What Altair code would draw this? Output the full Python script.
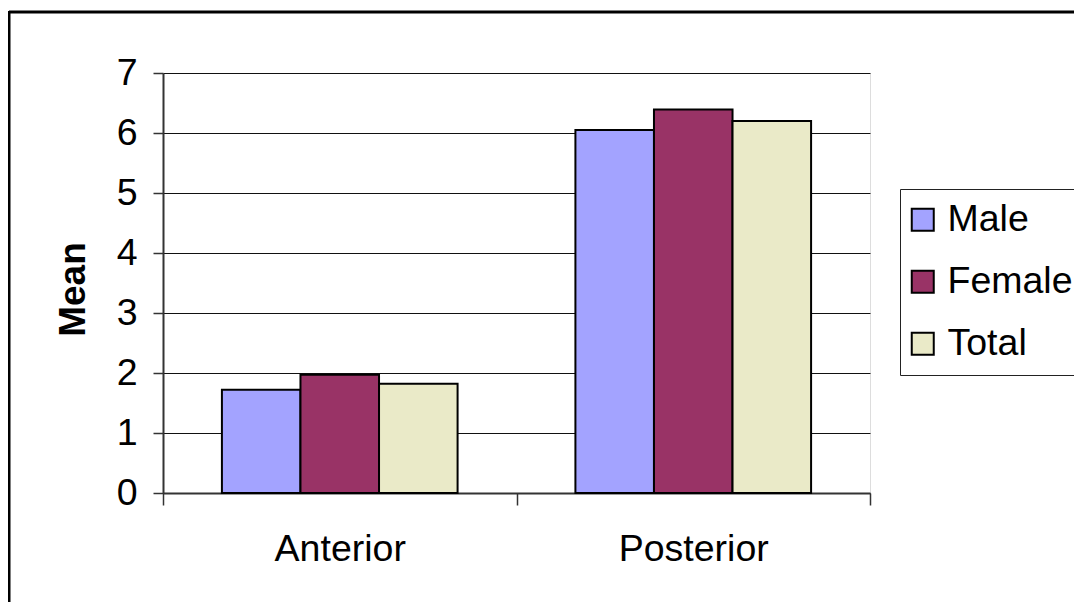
import altair as alt
import pandas as pd

regions = ["Anterior", "Posterior"]
series = ["Male", "Female", "Total"]
male = [1.72, 6.05]
female = [1.97, 6.39]
total = [1.82, 6.20]
colors = ["#A3A3FF", "#993366", "#EAEAC8"]
y_ticks = [0, 1, 2, 3, 4, 5, 6, 7]

rows = []
for i, r in enumerate(regions):
    for s, vals in zip(series, [male, female, total]):
        rows.append({"region": r, "series": s, "mean": vals[i]})
df = pd.DataFrame(rows)

FONT = "Liberation Sans"
W, H = 707, 420
PL, PT = 155, 65
SVG_W, SVG_H = 1066, 594

bars = alt.Chart(df).mark_bar(stroke="black", strokeWidth=2, opacity=1).encode(
    x=alt.X("region:N", sort=regions,
            scale=alt.Scale(paddingInner=0, paddingOuter=0),
            axis=alt.Axis(title=None, labelAngle=0, labelFontSize=37.5, labelFont=FONT,
                          labelColor="black", tickBand="extent", tickSize=12,
                          tickColor="#333333", tickWidth=1.5, domainColor="#333333",
                          domainWidth=2, labelPadding=25, grid=False)),
    xOffset=alt.XOffset("series:N", sort=series,
                        scale=alt.Scale(paddingInner=0, paddingOuter=0.75)),
    y=alt.Y("mean:Q", scale=alt.Scale(domain=[0, 7], nice=False),
            axis=alt.Axis(values=y_ticks, title="Mean", titleFont=FONT, titleFontSize=37,
                          titleFontWeight="bold", titleColor="black", titlePadding=24,
                          titleY=216,
                          labelFontSize=37.5, labelFont=FONT, labelColor="black",
                          labelPadding=16, tickSize=10, tickColor="#333333", tickWidth=1.5,
                          domainColor="#333333", domainWidth=2,
                          grid=True, gridColor="#111111", gridWidth=1)),
    color=alt.Color("series:N", sort=series,
                    scale=alt.Scale(domain=series, range=colors),
                    legend=alt.Legend(title=None, orient="none", legendX=737, legendY=116,
                                      direction="vertical", strokeColor="#222222",
                                      padding=12, symbolType="square", symbolSize=484,
                                      symbolStrokeColor="black", symbolStrokeWidth=2,
                                      symbolOffset=-8,
                                      symbolOpacity=1, labelFont=FONT, labelFontSize=37.5,
                                      labelColor="black", labelOffset=6, rowPadding=23,
                                      fillColor="white")),
)

frame_data = alt.Data(values=[{"a": 1}])
frame_top = alt.Chart(frame_data).mark_rule(stroke="black", strokeWidth=3).encode(
    x=alt.value(-154), x2=alt.value(W + 400), y=alt.value(-61),
)
frame_left = alt.Chart(frame_data).mark_rule(stroke="black", strokeWidth=3).encode(
    x=alt.value(-154), y=alt.value(-62), y2=alt.value(H + 300),
)

chart = alt.layer(frame_top, frame_left, bars).properties(
    width=W, height=H,
    autosize=alt.AutoSizeParams(type="none"),
    padding={"left": PL, "top": PT, "right": SVG_W - PL - W, "bottom": SVG_H - PT - H},
).configure_view(stroke="#888888", strokeWidth=2).configure(background="white")

chart.save("out.html", embed_options={"renderer": "svg", "actions": False})
